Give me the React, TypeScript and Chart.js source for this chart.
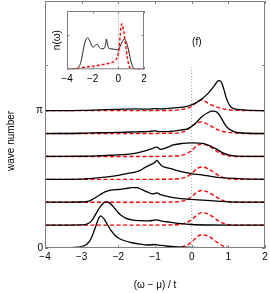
import React, { useEffect, useRef } from "react";
import { Chart, registerables } from "chart.js";

Chart.register(...registerables);

const PI = Math.PI;
const FONT = '"Liberation Sans", Arial, Helvetica, sans-serif';
const AXIS_COLOR = "#808080";

// ---------- main panel ----------
const X_TICKS = [-4, -3, -2, -1, 0, 1, 2];
const Y_TICKS = [0, PI, (4 * PI) / 3];
const Y_TICK_LABELS = ["0", "π", ""];
const K_STEP = PI / 6; // wave numbers 0, π/6, ..., π
const AMP = 0.0229; // spectral weight (a.u.) -> offset in wave-number units
const Y_MAX = 5.65;
const FERMI_LINE_TOP = 4.13;

// black solid curves A(k, ω), one per wave number
const OMEGA_K0 = [-4, -3.2, -3.0, -2.85, -2.75, -2.65, -2.55, -2.48, -2.4, -2.3, -2.2, -2.1, -2.0, -1.85, -1.6, -1.4, -1.2, -1.0, -0.9, -0.7, -0.4, 0, 0.5, 1, 2];
const A_K0 = [0, 0.5, 1.5, 4, 9, 18, 28.5, 32, 29.5, 23.5, 17.5, 13, 10, 7.5, 5, 3.8, 3, 3.5, 2.8, 2, 1.2, 0.6, 0.2, 0, 0];

const OMEGA_K1 = [-4, -3.0, -2.86, -2.75, -2.68, -2.6, -2.5, -2.4, -2.32, -2.22, -2.14, -2.05, -1.95, -1.8, -1.6, -1.4, -1.2, -1.0, -0.95, -0.85, -0.6, -0.3, 0, 0.5, 1, 2];
const A_K1 = [0, 0.3, 1, 3.5, 7, 12, 18, 22, 23.5, 21.5, 18.5, 14.5, 10.5, 7, 5, 4.5, 4.3, 5, 5.3, 4.3, 3, 1.5, 0.6, 0.1, 0, 0];

const OMEGA_K2 = [-4, -3.0, -2.8, -2.65, -2.5, -2.35, -2.2, -2.0, -1.8, -1.65, -1.5, -1.35, -1.2, -1.05, -0.95, -0.85, -0.7, -0.5, -0.3, 0, 0.3, 0.7, 1.0, 2];
const A_K2 = [0, 0.2, 1, 4, 7.5, 10.5, 12, 12.7, 13.5, 14.5, 14.5, 12.5, 10, 8.3, 9.3, 7.5, 6, 4.5, 3.5, 2.8, 2, 1, 0.3, 0];

const OMEGA_K3 = [-4, -3.0, -2.8, -2.5, -2.3, -2.0, -1.77, -1.55, -1.4, -1.27, -1.1, -1.0, -0.95, -0.88, -0.8, -0.6, -0.42, -0.2, 0.0, 0.27, 0.65, 1.0, 1.4, 2];
const A_K3 = [0, 0.3, 0.8, 1.8, 2.5, 4, 5.7, 7.3, 9, 12, 15, 17, 19, 16, 13, 11, 9, 7, 5.5, 4.5, 2.3, 1.2, 0.5, 0];

const OMEGA_K4 = [-4, -3.0, -2.6, -2.2, -1.8, -1.55, -1.27, -1.1, -1.0, -0.95, -0.85, -0.7, -0.5, -0.25, 0.0, 0.3, 0.5, 0.68, 0.85, 1.0, 1.2, 2];
const A_K4 = [0, 0.2, 0.6, 1.2, 2, 3, 5.5, 7.5, 9, 9.3, 7, 8.5, 11.5, 13, 13.5, 13, 10.5, 7.3, 3.5, 1.5, 0.3, 0];

const OMEGA_K5 = [-4, -3.0, -2.5, -2.0, -1.5, -1.2, -1.0, -0.9, -0.7, -0.5, -0.3, -0.1, 0.1, 0.27, 0.45, 0.58, 0.7, 0.8, 0.9, 1.0, 1.18, 1.5, 2];
const A_K5 = [0, 0.3, 0.8, 1.2, 1.7, 2, 2.6, 2, 2, 2.5, 3.5, 5, 10, 16.5, 21, 22.3, 21, 16, 9.5, 5, 1.7, 0.3, 0];

const OMEGA_K6 = [-4, -3.0, -2.5, -2.0, -1.5, -1.2, -1.0, -0.9, -0.7, -0.4, -0.1, 0.1, 0.27, 0.4, 0.5, 0.62, 0.73, 0.8, 0.88, 0.95, 1.05, 1.15, 1.3, 1.6, 2];
const A_K6 = [0, 0.3, 0.8, 1.3, 1.7, 1.5, 2, 1.8, 2, 3, 4.5, 7.5, 11.5, 15.5, 19.5, 25, 30, 29, 21, 12, 4.5, 2, 1, 0.3, 0];

// red dashed curves, common ω grid
const RED_OMEGA = [-4, -2, -1, -0.5, -0.3, -0.15, 0, 0.14, 0.27, 0.4, 0.55, 0.7, 0.85, 1.0, 1.2, 1.5, 2];
const RED_K0 = [0, 0, 0, 0.3, 0.8, 2.5, 6, 11, 13.3, 12.5, 9.7, 5.5, 2.2, 0.5, 0, 0, 0];
const RED_K1 = [0, 0, 0, 0.3, 0.8, 2.3, 5.5, 10, 12.3, 11.8, 9, 5, 2, 0.5, 0, 0, 0];
const RED_K2 = [0, 0, 0, 0.3, 0.8, 2.2, 5.5, 10, 11.7, 10.8, 8, 4.5, 1.8, 0.5, 0, 0, 0];
const RED_K3 = [0, 0, 0, 0.3, 0.8, 2.3, 5.8, 10.5, 12.3, 11.3, 8.3, 4.7, 1.9, 0.5, 0, 0, 0];
const RED_K4 = [0, 0, 0, 0.4, 1, 2.5, 6, 10.8, 12.5, 11.5, 8.5, 4.8, 2, 0.6, 0, 0, 0];
const RED_K5 = [0, 0, 0.1, 0.4, 1, 3, 7.3, 10.5, 11.7, 10, 7, 4, 2, 1.2, 0.5, 0, 0];
const RED_K6 = [0, 0, 0.1, 0.4, 1, 2, 4, 8.5, 10.7, 8.5, 5.5, 3.5, 1.8, 0.9, 0.3, 0, 0];

// ---------- inset n(ω) ----------
const INSET_X_TICKS = [-4, -2, 0, 2];
const INSET_Y_TICKS = [0.59];
const INSET_OMEGA_BLACK = [-4, -3.3, -3.1, -2.95, -2.8, -2.65, -2.5, -2.38, -2.25, -2.1, -1.97, -1.8, -1.65, -1.5, -1.3, -1.1, -1.0, -0.93, -0.85, -0.74, -0.5, -0.2, 0.0, 0.15, 0.3, 0.47, 0.6, 0.75, 0.9, 1.05, 1.2, 1.4, 2];
const INSET_N_BLACK = [0, 0.01, 0.04, 0.1, 0.25, 0.42, 0.52, 0.54, 0.5, 0.42, 0.38, 0.41, 0.43, 0.38, 0.35, 0.36, 0.42, 0.52, 0.44, 0.36, 0.35, 0.34, 0.33, 0.4, 0.47, 0.52, 0.48, 0.37, 0.22, 0.08, 0.02, 0, 0];
const INSET_OMEGA_RED = [-4, -3.5, -3, -2.5, -2, -1.5, -1.0, -0.6, -0.3, -0.1, 0.05, 0.15, 0.25, 0.32, 0.42, 0.52, 0.62, 0.72, 0.82, 0.92, 1.1, 2];
const INSET_N_RED = [0, 0.005, 0.02, 0.04, 0.055, 0.07, 0.09, 0.11, 0.14, 0.2, 0.35, 0.6, 0.78, 0.76, 0.65, 0.5, 0.33, 0.18, 0.07, 0.02, 0, 0];

const LABEL_F = "(f)";
const LABEL_F_POS = { x: 0.14, y: 4.7 };
const Y_TITLE = "wave number";
const Y_TITLE_CENTER = 2.45;

const BLACK_CURVES = [
  [OMEGA_K0, A_K0], [OMEGA_K1, A_K1], [OMEGA_K2, A_K2], [OMEGA_K3, A_K3],
  [OMEGA_K4, A_K4], [OMEGA_K5, A_K5], [OMEGA_K6, A_K6],
];
const RED_CURVES = [RED_K0, RED_K1, RED_K2, RED_K3, RED_K4, RED_K5, RED_K6];

const fmt = (v: number) => (v < 0 ? "\u2212" + Math.abs(v) : String(v));

function stacked(omega: number[], vals: number[], k: number) {
  return omega.map((w, i) => ({ x: w, y: k * K_STEP + vals[i] * AMP }));
}

function zeroPadding(s: any) {
  s.paddingLeft = 0;
  s.paddingRight = 0;
  s.paddingTop = 0;
  s.paddingBottom = 0;
}

const mainDecor = {
  id: "mainDecor",
  afterDraw(chart: any) {
    const { ctx, chartArea: a, scales } = chart;
    const x = scales.x;
    const y = scales.y;
    ctx.save();
    ctx.strokeStyle = AXIS_COLOR;
    ctx.lineWidth = 1;
    ctx.strokeRect(a.left + 0.5, a.top + 0.5, a.right - a.left - 1, a.bottom - a.top - 1);
    const L = 3;
    ctx.beginPath();
    x.ticks.forEach((t: any) => {
      const px = Math.round(x.getPixelForValue(t.value)) + 0.5;
      ctx.moveTo(px, a.bottom);
      ctx.lineTo(px, a.bottom - L);
      ctx.moveTo(px, a.top);
      ctx.lineTo(px, a.top + L);
    });
    y.ticks.forEach((t: any) => {
      const py = Math.round(y.getPixelForValue(t.value)) + 0.5;
      ctx.moveTo(a.left, py);
      ctx.lineTo(a.left + L, py);
      ctx.moveTo(a.right, py);
      ctx.lineTo(a.right - L, py);
    });
    ctx.stroke();

    ctx.fillStyle = "#000";
    ctx.font = `10px ${FONT}`;
    ctx.textAlign = "center";
    ctx.textBaseline = "middle";
    ctx.fillText(LABEL_F, x.getPixelForValue(LABEL_F_POS.x), y.getPixelForValue(LABEL_F_POS.y));

    ctx.translate(11, y.getPixelForValue(Y_TITLE_CENTER));
    ctx.rotate(-Math.PI / 2);
    ctx.fillText(Y_TITLE, 0, 0);
    ctx.restore();
  },
};

const insetDecor = {
  id: "insetDecor",
  beforeDraw(chart: any) {
    const { ctx, chartArea: a } = chart;
    ctx.save();
    ctx.fillStyle = "#fff";
    ctx.fillRect(a.left, a.top, a.right - a.left, a.bottom - a.top);
    ctx.restore();
  },
  afterDraw(chart: any) {
    const { ctx, chartArea: a, scales } = chart;
    const x = scales.x;
    const y = scales.y;
    ctx.save();
    ctx.strokeStyle = AXIS_COLOR;
    ctx.lineWidth = 1;
    ctx.strokeRect(a.left + 0.5, a.top + 0.5, a.right - a.left - 1, a.bottom - a.top - 1);
    const L = 2.5;
    ctx.beginPath();
    x.ticks.forEach((t: any) => {
      const px = Math.round(x.getPixelForValue(t.value)) + 0.5;
      ctx.moveTo(px, a.bottom);
      ctx.lineTo(px, a.bottom - L);
      ctx.moveTo(px, a.top);
      ctx.lineTo(px, a.top + L);
    });
    y.ticks.forEach((t: any) => {
      const py = Math.round(y.getPixelForValue(t.value)) + 0.5;
      ctx.moveTo(a.left, py);
      ctx.lineTo(a.left + L, py);
      ctx.moveTo(a.right, py);
      ctx.lineTo(a.right - L, py);
    });
    ctx.stroke();
    ctx.restore();
  },
};

export default function App() {
  const mainRef = useRef<HTMLCanvasElement>(null);
  const insetRef = useRef<HTMLCanvasElement>(null);

  useEffect(() => {
    Chart.defaults.font.family = FONT;
    Chart.defaults.color = "#000";

    const datasets: any[] = [];
    RED_CURVES.forEach((vals, k) => {
      datasets.push({
        data: stacked(RED_OMEGA, vals, k),
        borderColor: "#ff0000",
        borderWidth: 1.4,
        borderDash: [4, 2.5],
        cubicInterpolationMode: "monotone",
        pointRadius: 0,
        fill: false,
        order: 2,
      });
    });
    BLACK_CURVES.forEach(([om, vals], k) => {
      datasets.push({
        data: stacked(om, vals, k),
        borderColor: "#000",
        borderWidth: 1.3,
        cubicInterpolationMode: "monotone",
        pointRadius: 0,
        fill: false,
        order: 1,
      });
    });
    datasets.push({
      data: [{ x: 0, y: 0 }, { x: 0, y: FERMI_LINE_TOP }],
      borderColor: "#9a9a9a",
      borderWidth: 1,
      borderDash: [1, 2],
      pointRadius: 0,
      fill: false,
      order: 3,
    });

    const main = new Chart(mainRef.current!, {
      type: "line",
      data: { datasets },
      plugins: [mainDecor],
      options: {
        animation: false,
        responsive: false,
        events: [],
        layout: { padding: { left: 0, top: 1, right: 5, bottom: 0 } },
        plugins: { legend: { display: false }, tooltip: { enabled: false } },
        scales: {
          x: {
            type: "linear",
            min: -4,
            max: 2,
            afterBuildTicks: (s: any) => {
              s.ticks = X_TICKS.map((v) => ({ value: v }));
            },
            afterFit: (s: any) => {
              s.height = 45;
              zeroPadding(s);
            },
            grid: { display: false, drawTicks: false },
            border: { display: false },
            ticks: {
              color: "#000",
              font: { size: 10 },
              padding: 3,
              maxRotation: 0,
              autoSkip: false,
              callback: (v: any) => fmt(Number(v)),
            },
            title: {
              display: true,
              text: "(ω − μ) / t",
              color: "#000",
              font: { size: 10 },
              padding: { top: 0, bottom: 2 },
            },
          },
          y: {
            type: "linear",
            min: 0,
            max: Y_MAX,
            afterBuildTicks: (s: any) => {
              s.ticks = Y_TICKS.map((v) => ({ value: v }));
            },
            afterFit: (s: any) => {
              s.width = 45;
              zeroPadding(s);
            },
            grid: { display: false, drawTicks: false },
            border: { display: false },
            ticks: {
              color: "#000",
              font: { size: 10 },
              padding: 2,
              autoSkip: false,
              callback: (_v: any, i: number) => Y_TICK_LABELS[i],
            },
          },
        },
      },
    } as any);

    const inset = new Chart(insetRef.current!, {
      type: "line",
      data: {
        datasets: [
          {
            data: INSET_OMEGA_RED.map((w, i) => ({ x: w, y: INSET_N_RED[i] })),
            borderColor: "#ff0000",
            borderWidth: 1.4,
            borderDash: [3, 2],
            cubicInterpolationMode: "monotone",
            pointRadius: 0,
            fill: false,
            order: 1,
          },
          {
            data: INSET_OMEGA_BLACK.map((w, i) => ({ x: w, y: INSET_N_BLACK[i] })),
            borderColor: "#222",
            borderWidth: 1,
            cubicInterpolationMode: "monotone",
            pointRadius: 0,
            fill: false,
            order: 2,
          },
          {
            data: [{ x: 0, y: 0 }, { x: 0, y: 1 }],
            borderColor: "#9a9a9a",
            borderWidth: 1,
            borderDash: [1, 1.5],
            pointRadius: 0,
            fill: false,
            order: 3,
          },
        ],
      },
      plugins: [insetDecor],
      options: {
        animation: false,
        responsive: false,
        events: [],
        layout: { padding: { left: 51, top: 11, right: 126, bottom: 203.7 } },
        plugins: { legend: { display: false }, tooltip: { enabled: false } },
        scales: {
          x: {
            type: "linear",
            min: -4,
            max: 2,
            afterBuildTicks: (s: any) => {
              s.ticks = INSET_X_TICKS.map((v) => ({ value: v }));
            },
            afterFit: (s: any) => {
              s.height = 20;
              zeroPadding(s);
            },
            grid: { display: false, drawTicks: false },
            border: { display: false },
            ticks: {
              color: "#000",
              font: { size: 10 },
              padding: 4,
              maxRotation: 0,
              autoSkip: false,
              callback: (v: any) => fmt(Number(v)),
            },
          },
          y: {
            type: "linear",
            min: 0,
            max: 1,
            afterBuildTicks: (s: any) => {
              s.ticks = INSET_Y_TICKS.map((v) => ({ value: v }));
            },
            afterFit: (s: any) => {
              s.width = 16;
              zeroPadding(s);
            },
            grid: { display: false, drawTicks: false },
            border: { display: false },
            ticks: { display: false },
            title: {
              display: true,
              text: "n(ω)",
              color: "#000",
              font: { size: 10 },
              padding: 0,
            },
          },
        },
      },
    } as any);

    return () => {
      main.destroy();
      inset.destroy();
    };
  }, []);

  return (
    <div style={{ position: "fixed", left: 0, top: 0, width: 270, height: 293, background: "#fff" }}>
      <canvas ref={mainRef} width={270} height={293} style={{ position: "absolute", left: 0, top: 0, display: "block" }} />
      <canvas ref={insetRef} width={270} height={293} style={{ position: "absolute", left: 0, top: 0, display: "block", pointerEvents: "none" }} />
    </div>
  );
}
